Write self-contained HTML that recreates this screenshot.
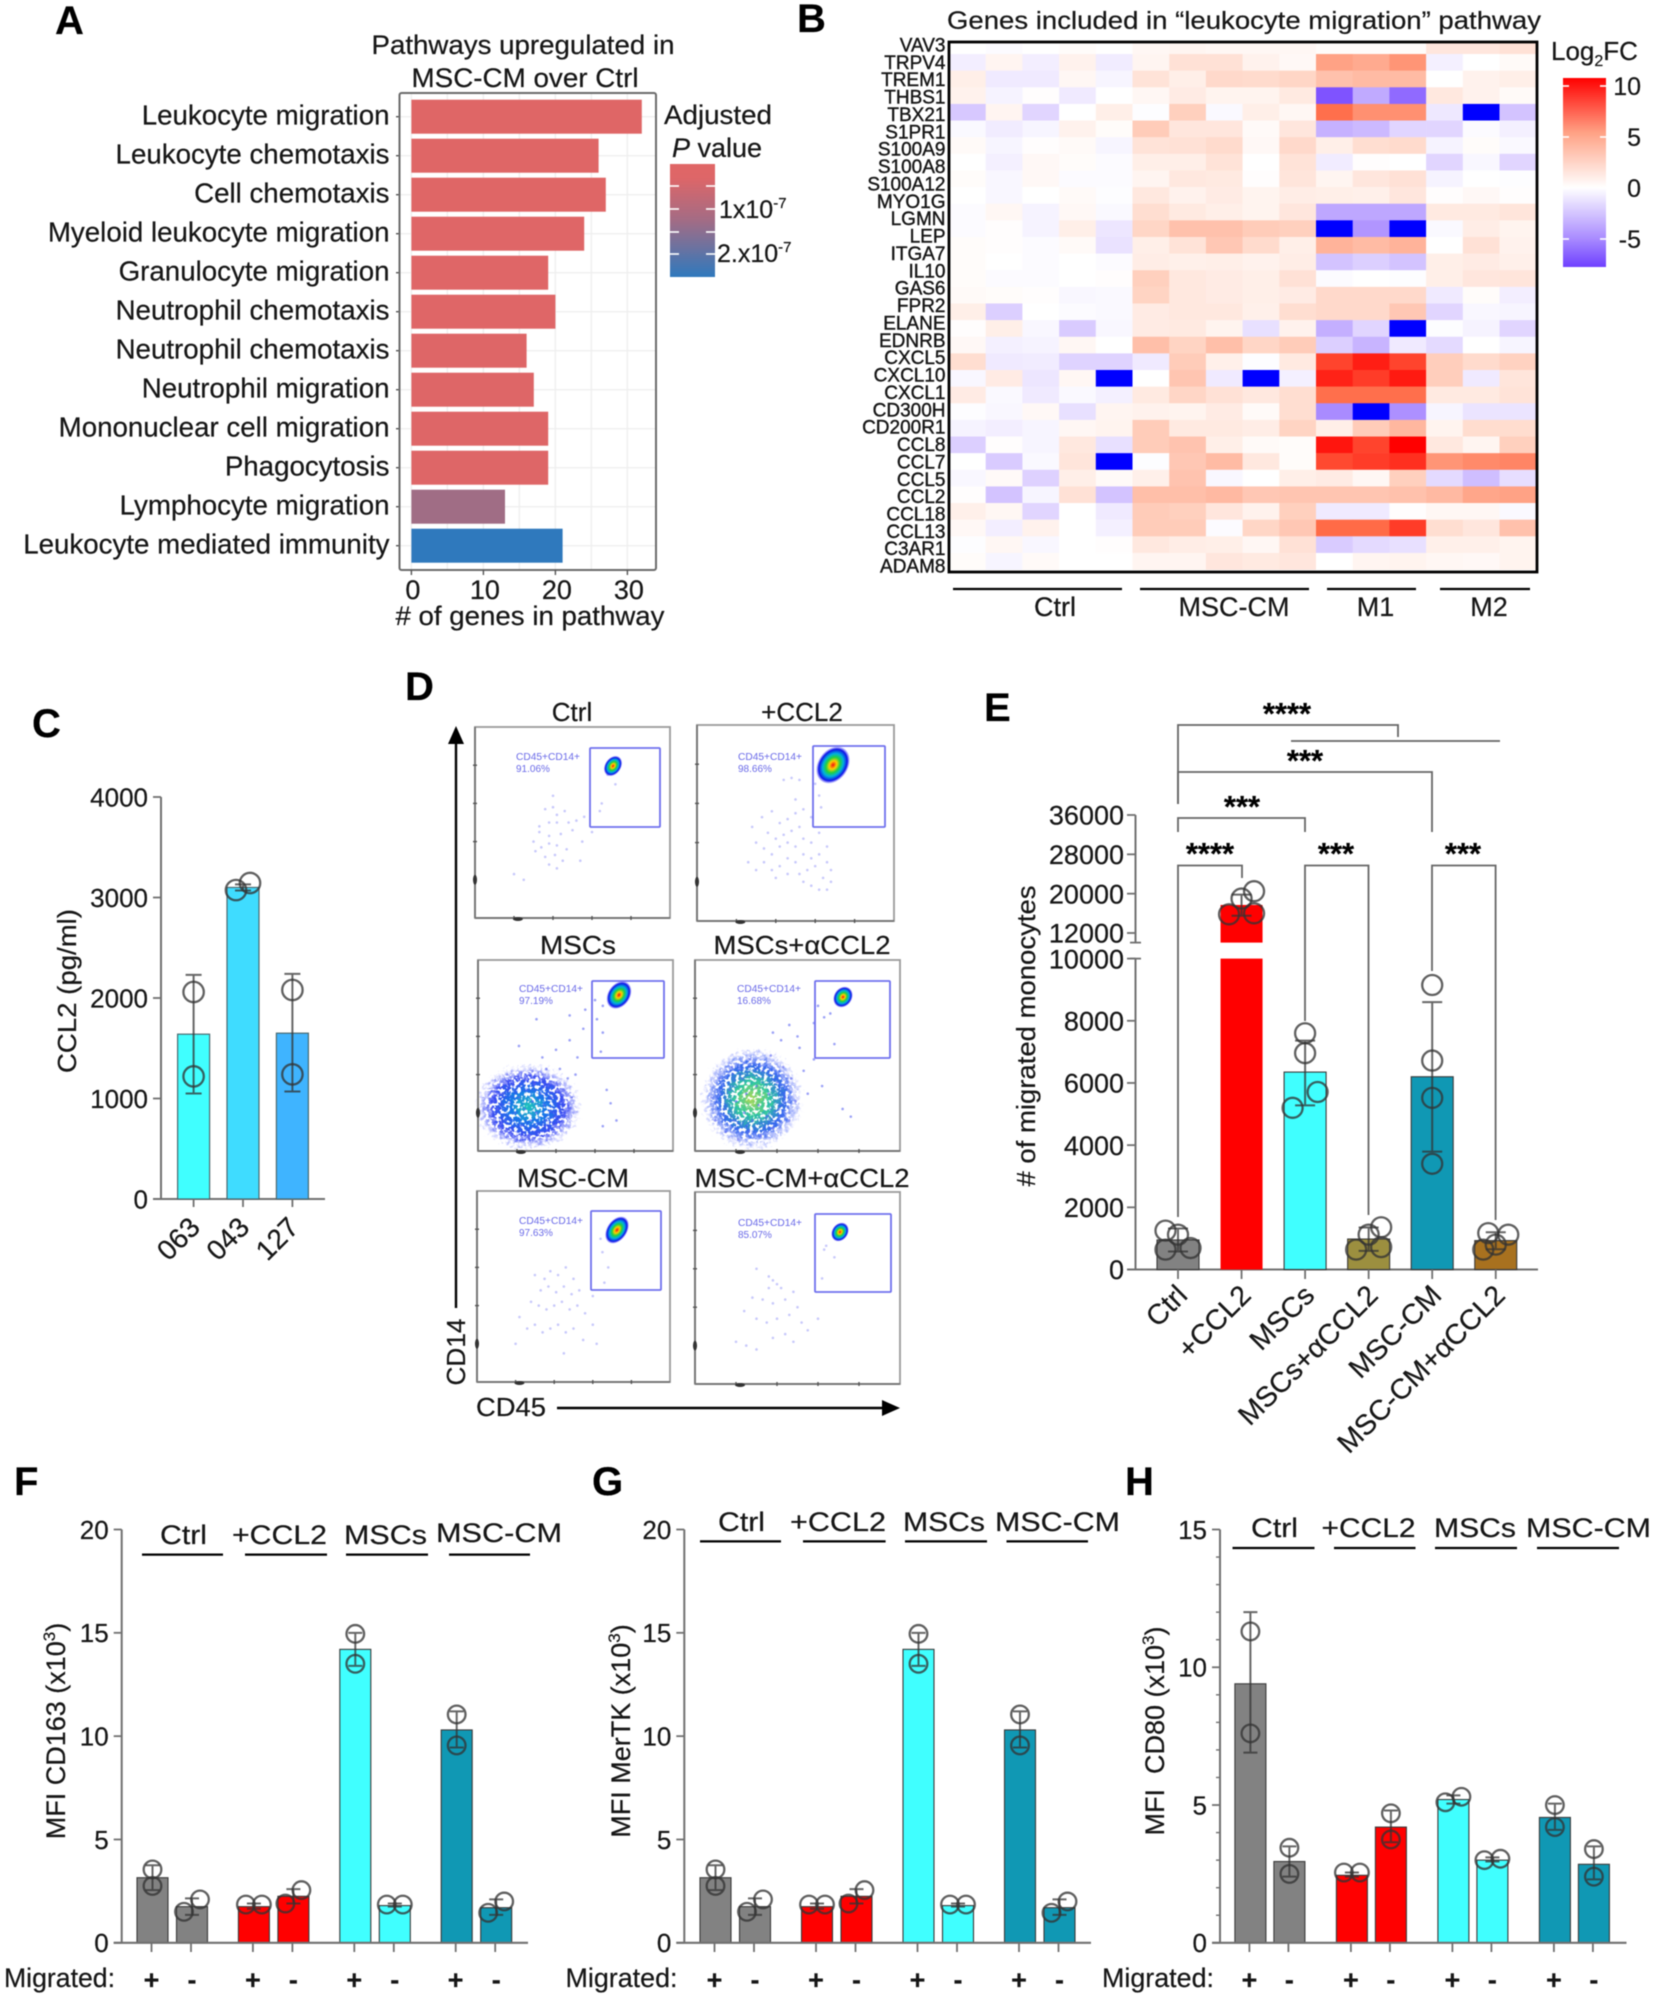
<!DOCTYPE html>
<html lang="en">
<head>
<meta charset="utf-8">
<title>Monocyte migration figure</title>
<style>
html,body{margin:0;padding:0;background:#fff}
svg{display:block;filter:blur(.55px)}
text{font-family:"Liberation Sans",sans-serif;fill:#161616;stroke:#161616;stroke-width:.22px}
.letter{font-weight:bold;font-size:40px;fill:#000}
.t27{font-size:27px}
.t26{font-size:26px}
.stars{font-weight:bold;font-size:31px;fill:#000;text-anchor:middle}
.grp{stroke:#000;stroke-width:2.2;fill:none}
.brk{stroke:#666;stroke-width:1.8;fill:none}
</style>
</head>
<body>
<svg id="fig" xmlns="http://www.w3.org/2000/svg" width="1654" height="1997" viewBox="0 0 1654 1997">
<rect width="1654" height="1997" fill="#fff"/>

<defs>
<linearGradient id="grad-p" x1="0" y1="0" x2="0" y2="1">
<stop offset="0" stop-color="#e06666"/><stop offset=".12" stop-color="#de6668"/><stop offset=".5" stop-color="#a36c85"/><stop offset="1" stop-color="#2f79bd"/>
</linearGradient>
<linearGradient id="grad-fc" x1="0" y1="0" x2="0" y2="1">
<stop offset="0" stop-color="#ff0000"/><stop offset=".29" stop-color="#ffa285"/><stop offset=".58" stop-color="#ffffff"/><stop offset=".85" stop-color="#a98bff"/><stop offset="1" stop-color="#7040ff"/>
</linearGradient>
<radialGradient id="grad-hot">
<stop offset="0" stop-color="#f01010"/><stop offset=".22" stop-color="#ffd000"/><stop offset=".42" stop-color="#20d040"/><stop offset=".62" stop-color="#00b0e0"/><stop offset=".85" stop-color="#1010e8"/><stop offset="1" stop-color="#5050ff" stop-opacity=".15"/>
</radialGradient>
<radialGradient id="grad-blob-a">
<stop offset="0" stop-color="#20c8b8"/><stop offset=".35" stop-color="#1878e8"/><stop offset=".68" stop-color="#2a3cf0" stop-opacity=".92"/><stop offset="1" stop-color="#6a70ff" stop-opacity="0"/>
</radialGradient>
<radialGradient id="grad-blob-b">
<stop offset="0" stop-color="#a8d858"/><stop offset=".35" stop-color="#30c8a0"/><stop offset=".66" stop-color="#2458ec" stop-opacity=".92"/><stop offset="1" stop-color="#6a70ff" stop-opacity="0"/>
</radialGradient>
<filter id="speckle" x="-15%" y="-15%" width="130%" height="130%">
<feTurbulence type="fractalNoise" baseFrequency=".28" numOctaves="2" seed="4" result="n"/>
<feDisplacementMap in="SourceGraphic" in2="n" scale="16" xChannelSelector="R" yChannelSelector="G" result="d"/>
<feColorMatrix in="n" type="matrix" values="0 0 0 0 0  0 0 0 0 0  0 0 0 0 0  0 0 0 -9 5.6" result="m"/>
<feComposite in="d" in2="m" operator="in"/>
</filter>
<clipPath id="hm-clip"><rect x="949" y="42" width="588" height="530"/></clipPath>
</defs>

<g id="panel-a">
<text class="letter" x="55" y="34" font-size="40">A</text>
<text class="t27" x="523" y="54" text-anchor="middle" textLength="303" lengthAdjust="spacingAndGlyphs">Pathways upregulated in</text>
<text class="t27" x="525" y="87" text-anchor="middle" textLength="227" lengthAdjust="spacingAndGlyphs">MSC-CM over Ctrl</text>
<text class="t27" x="530" y="625" text-anchor="middle" textLength="269" lengthAdjust="spacingAndGlyphs"># of genes in pathway</text>
<text class="t27" x="664" y="124" textLength="108" lengthAdjust="spacingAndGlyphs">Adjusted</text>
<text class="t27" x="672" y="157"><tspan font-style="italic">P</tspan> value</text>
<rect x="670" y="164" width="45" height="113" fill="url(#grad-p)"/>
<text x="719" y="218" font-size="25">1x10<tspan dy="-10" font-size="15">-7</tspan></text>
<text x="717" y="262" font-size="25">2.x10<tspan dy="-10" font-size="15">-7</tspan></text>
</g>

<g id="panel-b">
<text class="letter" x="797" y="32">B</text>
<text x="947" y="29" font-size="25" textLength="594" lengthAdjust="spacingAndGlyphs">Genes included in “leukocyte migration” pathway</text>
<text x="1551" y="60" font-size="26">Log<tspan dy="6" font-size="16">2</tspan><tspan dy="-6">FC</tspan></text>
<rect x="1563" y="78" width="43" height="189" fill="url(#grad-fc)"/>
<line class="grp" x1="953" x2="1122" y1="589" y2="589"/>
<line class="grp" x1="1140" x2="1309" y1="589" y2="589"/>
<line class="grp" x1="1327" x2="1416" y1="589" y2="589"/>
<line class="grp" x1="1440" x2="1530" y1="589" y2="589"/>
</g>

<g id="panel-c">
<text class="letter" x="32" y="737">C</text>
<text class="t26" transform="rotate(-90 76 991)" x="76" y="991" text-anchor="middle" textLength="164" lengthAdjust="spacingAndGlyphs">CCL2 (pg/ml)</text>
</g>

<g id="panel-d">
<text class="letter" x="405" y="700">D</text>
<text class="t26" x="572" y="721" text-anchor="middle">Ctrl</text>
<text class="t26" x="802" y="721" text-anchor="middle">+CCL2</text>
<text class="t26" x="578" y="954" text-anchor="middle" textLength="76" lengthAdjust="spacingAndGlyphs">MSCs</text>
<text class="t26" x="802" y="954" text-anchor="middle" textLength="177" lengthAdjust="spacingAndGlyphs">MSCs+αCCL2</text>
<text class="t26" x="573" y="1187" text-anchor="middle" textLength="112" lengthAdjust="spacingAndGlyphs">MSC-CM</text>
<text class="t26" x="802" y="1187" text-anchor="middle" textLength="215" lengthAdjust="spacingAndGlyphs">MSC-CM+αCCL2</text>
<line x1="456" y1="1308" x2="456" y2="735" stroke="#000" stroke-width="2.4"/>
<polygon points="456,726 448,744 464,744" fill="#000"/>
<text class="t26" transform="rotate(-90 465 1352)" x="465" y="1352" text-anchor="middle" textLength="67" lengthAdjust="spacingAndGlyphs">CD14</text>
<line x1="557" y1="1408" x2="890" y2="1408" stroke="#000" stroke-width="2.4"/>
<polygon points="900,1408 882,1400 882,1416" fill="#000"/>
<text class="t26" x="476" y="1416" textLength="70" lengthAdjust="spacingAndGlyphs">CD45</text>
</g>

<g id="panel-e">
<text class="letter" x="984" y="721">E</text>
<text class="t26" transform="rotate(-90 1035 1036)" x="1035" y="1036" text-anchor="middle" textLength="301" lengthAdjust="spacingAndGlyphs"># of migrated monocytes</text>
<path class="brk" d="M1178 804V725H1398V737"/>
<path class="brk" d="M1291 741H1500"/>
<path class="brk" d="M1178 804V772H1432V832"/>
<path class="brk" d="M1178 832V818H1305V832"/>
<path class="brk" d="M1178 1217V865.5H1242V878"/>
<path class="brk" d="M1305 1021V865.5H1368.5V1215"/>
<path class="brk" d="M1432 971V865.5H1495.6V1220"/>
<text class="stars" x="1287" y="724">****</text>
<text class="stars" x="1305" y="771">***</text>
<text class="stars" x="1242" y="817">***</text>
<text class="stars" x="1210" y="864">****</text>
<text class="stars" x="1336" y="864">***</text>
<text class="stars" x="1463" y="864">***</text>
</g>

<g id="panel-f">
<text class="letter" x="14" y="1495">F</text>
<text class="t27" transform="rotate(-90 65 1731)" x="65" y="1731" text-anchor="middle">MFI CD163 (x10<tspan dy="-10" font-size="17">3</tspan><tspan dy="10">)</tspan></text>
<line class="grp" x1="142" x2="223" y1="1554.6" y2="1554.6"/>
<line class="grp" x1="245" x2="327" y1="1554.6" y2="1554.6"/>
<line class="grp" x1="346" x2="428" y1="1554.6" y2="1554.6"/>
<line class="grp" x1="449" x2="530" y1="1554.6" y2="1554.6"/>
<text class="t27" x="160" y="1544" textLength="47" lengthAdjust="spacingAndGlyphs">Ctrl</text>
<text class="t27" x="232" y="1544" textLength="95" lengthAdjust="spacingAndGlyphs">+CCL2</text>
<text class="t27" x="344" y="1544" textLength="83" lengthAdjust="spacingAndGlyphs">MSCs</text>
<text class="t27" x="436" y="1542" textLength="126" lengthAdjust="spacingAndGlyphs">MSC-CM</text>
<text class="t27" x="4" y="1987" textLength="111" lengthAdjust="spacingAndGlyphs">Migrated:</text>
</g>

<g id="panel-g">
<text class="letter" x="592" y="1495">G</text>
<text class="t27" transform="rotate(-90 630 1731)" x="630" y="1731" text-anchor="middle">MFI MerTK (x10<tspan dy="-10" font-size="17">3</tspan><tspan dy="10">)</tspan></text>
<line class="grp" x1="700" x2="781" y1="1541.4" y2="1541.4"/>
<line class="grp" x1="803" x2="885.6" y1="1541.4" y2="1541.4"/>
<line class="grp" x1="905" x2="987" y1="1541.4" y2="1541.4"/>
<line class="grp" x1="1006.5" x2="1088" y1="1541.4" y2="1541.4"/>
<text class="t27" x="718" y="1531" textLength="47" lengthAdjust="spacingAndGlyphs">Ctrl</text>
<text class="t27" x="790" y="1531" textLength="96" lengthAdjust="spacingAndGlyphs">+CCL2</text>
<text class="t27" x="903" y="1531" textLength="82" lengthAdjust="spacingAndGlyphs">MSCs</text>
<text class="t27" x="995" y="1531" textLength="125" lengthAdjust="spacingAndGlyphs">MSC-CM</text>
<text class="t27" x="565.5" y="1987" textLength="112" lengthAdjust="spacingAndGlyphs">Migrated:</text>
</g>

<g id="panel-h">
<text class="letter" x="1125" y="1495">H</text>
<text class="t27" transform="rotate(-90 1164 1731)" x="1164" y="1731" text-anchor="middle" xml:space="preserve">MFI  CD80 (x10<tspan dy="-10" font-size="17">3</tspan><tspan dy="10">)</tspan></text>
<line class="grp" x1="1232.5" x2="1314.5" y1="1548" y2="1548"/>
<line class="grp" x1="1334" x2="1415.5" y1="1548" y2="1548"/>
<line class="grp" x1="1435" x2="1517" y1="1548" y2="1548"/>
<line class="grp" x1="1537" x2="1619" y1="1548" y2="1548"/>
<text class="t27" x="1251" y="1537" textLength="47" lengthAdjust="spacingAndGlyphs">Ctrl</text>
<text class="t27" x="1321.5" y="1537" textLength="94" lengthAdjust="spacingAndGlyphs">+CCL2</text>
<text class="t27" x="1434" y="1537" textLength="82" lengthAdjust="spacingAndGlyphs">MSCs</text>
<text class="t27" x="1526" y="1537" textLength="125" lengthAdjust="spacingAndGlyphs">MSC-CM</text>
<text class="t27" x="1102" y="1987" textLength="112" lengthAdjust="spacingAndGlyphs">Migrated:</text>
</g>
</svg>

<script>
/* ---------- Panel A data ---------- */
const pathwayLabels = ['Leukocyte migration','Leukocyte chemotaxis','Cell chemotaxis','Myeloid leukocyte migration','Granulocyte migration','Neutrophil chemotaxis','Neutrophil chemotaxis','Neutrophil migration','Mononuclear cell migration','Phagocytosis','Lymphocyte migration','Leukocyte mediated immunity'];
const pathwayCounts = [32,26,27,24,19,20,16,17,19,19,13,21];
const pathwayPvalues = [1e-9,1e-9,1e-9,2e-9,2e-9,2e-9,3e-9,3e-9,3e-9,3e-9,0.9e-7,2.5e-7];
const pathwayXTicks = ['0','10','20','30'];

/* ---------- Panel B data ---------- */
const heatmapGenes = ['VAV3','TRPV4','TREM1','THBS1','TBX21','S1PR1','S100A9','S100A8','S100A12','MYO1G','LGMN','LEP','ITGA7','IL10','GAS6','FPR2','ELANE','EDNRB','CXCL5','CXCL10','CXCL1','CD300H','CD200R1','CCL8','CCL7','CCL5','CCL2','CCL18','CCL13','C3AR1','ADAM8'];
const heatmapGroups = ['Ctrl','MSC-CM','M1','M2'];
const heatmapLegendTicks = ['10','5','0','-5'];
const heatmapValues = [
[0,-.2,0,.2,0,.5,.6,.5,.5,.5,.2,.2,.2,1.5,1.5,1.8],
[-.8,.6,-.8,.8,-.9,.6,1.8,1.8,.8,.4,5,4.6,5.6,-.7,0,.3],
[1,-1,-1,.5,-.5,1.7,1,2.3,2.2,2.5,3.5,3.8,3.8,0,.8,1],
[.8,-.6,.1,-1,0,.5,1.2,.7,.7,1.3,-7,-3.8,-6.2,1.4,.8,.3],
[-2.6,.6,-2,0,1,-.1,2.8,-.3,1,.5,7.3,5.8,5.8,-1.1,-10,-2.8],
[-.3,-.9,-.5,.8,.2,3,1.5,1.5,.3,1.5,-3.5,-3.2,-2,-2,-.2,-.7],
[.3,-.5,.1,.3,-.5,1.7,1.8,2.2,.4,2.3,1,2,2.2,-.6,.2,-.3],
[0,-.7,.4,.2,-.2,1,1,1.7,0,1.7,-.9,.1,0,-2,-.4,-2],
[.2,-.4,.4,-.2,-.2,.6,1.4,1.3,.1,1.6,.6,1.5,1.8,-.6,0,-.1],
[0,-.4,0,.3,-.1,1.4,.8,1.2,.7,1.1,1,.9,1.5,.1,.4,.1],
[-.2,.5,-.6,.4,-.3,2,1.3,1,.7,1.5,-3.9,-3.9,-3.9,1.3,1.3,1.6],
[-.2,.1,-.6,1,-1.2,2.5,3.5,3.5,3,2.8,-10,-4.6,-10,-.3,1.1,.7],
[.2,.1,-.2,.3,-1.4,1,1.7,3.2,2.2,1,4.2,3.8,4.2,0,1.8,.8],
[.2,0,-.2,0,-.2,1.1,.9,1,.8,1.1,-2.8,-2.3,-2.8,1,1.2,.9],
[.2,-.2,-.2,0,.1,2.8,1.4,1.2,1,1.8,-.2,0,-.1,1,1.5,1.6],
[.3,.2,.1,-.4,-.3,2.6,1.4,1.2,1,1.2,2.3,2.3,2.3,-1,.2,-.8],
[1,-2.3,0,-.2,-.3,1.2,1.4,1.4,.9,2,2.3,2.3,3.2,-2,-.4,-.5],
[.1,1,-.4,-2.5,-.4,1.2,1.3,.7,-1.5,.8,-3.6,-2,-10,-.1,-.6,-2],
[.4,-.7,-.6,.5,0,3.6,2.6,3.6,2.5,3,-2.3,-3.4,-1,-1.8,0,-.5],
[2,-1,-.9,-2.1,-2.1,-1,3,.9,-.1,1.3,8.4,9.3,8.4,2.9,2.2,2.7],
[-.4,1.2,-1.2,.5,-10,0,3.3,-1,-10,-.7,9.2,8.6,9.4,2.9,-1,1.6],
[1.2,-.3,-1,-.3,-.7,1.3,2.5,1.8,1.4,2,7.3,7.3,7.3,1.3,1.3,1.7],
[-.1,-.4,.4,-1.5,.6,.8,.7,1.2,.3,2,-5,-10,-4.8,-.5,-1.3,-1.3],
[-.6,-.8,-.5,.5,.7,3,1.3,1.3,1.1,2.6,1,3,4,.7,2.1,2.1],
[-2.3,.1,-.5,1.4,-1.5,3,3.4,1,.3,.2,9.5,8.4,10,1.4,.6,2.8],
[0,-2.5,-.3,1.6,-10,-.1,3.2,3.8,1.4,.2,8.3,8.6,8.9,5.6,6.1,6.3],
[-.4,.3,-2.2,1,.3,.9,3.4,-.4,0,1,1.2,.5,2.8,-1.8,-3,-1.6],
[.1,-2.8,-.5,1.8,-2.8,3.6,3.6,3.9,3.2,3.3,3.3,3.3,3.5,3.9,4.8,5],
[.9,.5,-2,0,-1,3,2.8,1.5,.8,2.8,-1,-1,.1,.5,.5,-.3],
[.4,-.8,.8,0,-.7,3,3,-.2,2.5,3.2,7.5,7.5,8.6,2,1.5,3.5],
[-.1,.5,-.4,0,.1,1.4,1.1,1,.5,1.8,-2.5,-1.8,-1.5,.9,.9,.7],
[.2,-.5,.3,0,0,.6,.6,1.5,1.3,1.5,0,.6,.7,.5,.4,.7]
];

/* ---------- Panel C data ---------- */
const ccl2Categories = ['063','043','127'];
const ccl2Values = [1640,3100,1650];
const ccl2ErrLow = [1050,3070,1070];
const ccl2ErrHigh = [2230,3130,2240];
const ccl2Points = [[2060,1220],[3074,3144],[2080,1240]];
const ccl2Slots = [[0,0],[-1,1],[0,0]];
const ccl2Ticks = ['0','1000','2000','3000','4000'];

/* ---------- Panel D data (events in % of plot width / height) ---------- */
const flowPercents = ['91.06%','98.66%','97.19%','16.68%','97.63%','85.07%'];
const flowEventsCtrl = [[36,43],[40,42],[42,46],[46,44],[38,50],[33,52],[42,50],[48,50],[52,49],[56,47],[33,55],[38,57],[44,56],[50,54],[30,60],[34,63],[38,61],[42,62],[31,65],[36,68],[41,67],[45,70],[38,72],[42,74],[20,77],[25,80],[47,64],[55,60],[60,55],[64,44],[65,40],[68,25],[70,22],[72,30],[40,36],[54,70]];
const flowEventsCcl2 = [[28,52],[33,47],[38,44],[42,50],[46,48],[50,45],[54,43],[58,47],[36,55],[40,58],[44,56],[48,54],[52,52],[30,60],[34,63],[38,66],[42,62],[46,60],[50,62],[54,58],[58,60],[62,55],[66,62],[26,70],[30,74],[34,70],[38,74],[42,72],[46,68],[50,70],[54,66],[58,68],[62,66],[66,70],[68,74],[40,78],[46,76],[52,76],[56,74],[60,72],[64,78],[68,80],[58,82],[62,84],[54,80],[66,84],[50,38],[44,28],[48,27],[52,28],[60,30],[62,36],[63,22],[63,42]];
const flowEventsMscs = [[33,51],[40,47],[47,42],[54,36],[47,29],[55,26],[61,31],[64,38],[63,48],[66,68],[68,75],[71,84],[64,87],[35,57],[42,57],[51,51],[21,45],[30,31],[60,21],[64,24],[10,78],[13,70],[14,84],[16,75],[17,90],[18,66],[19,80],[21,72],[22,87],[23,62],[24,78],[25,68],[26,92],[27,84],[28,74],[29,65],[30,80],[31,88],[32,70],[33,60],[34,76],[35,84],[36,66],[37,79],[38,72],[39,64],[40,82],[42,74],[44,68],[46,62],[45,78],[8,74],[12,90],[20,94],[30,95],[15,60],[28,58],[50,60],[48,72],[36,92]];
const flowEventsMscsAb = [[8,72],[10,84],[12,62],[14,78],[15,90],[17,68],[18,56],[19,84],[20,74],[21,94],[23,62],[24,80],[25,70],[26,90],[27,52],[28,84],[30,66],[31,76],[32,92],[33,58],[35,82],[36,70],[37,50],[38,88],[40,64],[41,78],[43,56],[44,72],[46,84],[47,62],[49,74],[51,46],[53,58],[55,70],[58,52],[62,66],[38,38],[42,42],[46,34],[50,40],[58,33],[68,44],[76,82],[72,78],[60,24],[63,30],[66,28]];
const flowEventsCm = [[30,44],[35,46],[38,42],[42,44],[46,40],[50,46],[33,52],[37,50],[41,53],[45,50],[49,54],[53,52],[28,58],[32,60],[36,62],[40,60],[44,58],[48,62],[52,60],[56,64],[22,66],[26,72],[30,70],[34,74],[38,72],[42,70],[46,74],[50,72],[60,70],[62,80],[55,78],[20,80],[45,85],[65,32],[64,25],[68,40],[66,48],[60,55]];
const flowEventsCmAb = [[30,40],[36,44],[38,46],[40,48],[36,50],[42,50],[28,55],[33,56],[38,58],[44,56],[48,52],[50,60],[24,62],[30,66],[35,68],[40,66],[46,64],[52,68],[20,78],[25,80],[30,82],[38,76],[44,74],[48,78],[55,72],[60,66],[62,45],[63,30],[64,28],[68,34]];

/* ---------- Panel E data ---------- */
const monoCategories = ['Ctrl','+CCL2','MSCs','MSCs+αCCL2','MSC-CM','MSC-CM+αCCL2'];
const monoValues = [950,17700,6350,980,6200,930];
const monoErrLow = [580,15500,5280,600,3790,650];
const monoErrHigh = [1320,19800,7360,1350,8600,1200];
const monoPoints = [[1250,1120,640,690],[20500,19000,15800,16000],[7600,6960,5710,5200],[1360,1120,640,720],[9150,6720,5520,3400],[1170,1120,800,640]];
const monoSlots = [[-1,0,-1,1],[1,0,-1,1],[0,0,1,-1],[1,0,-1,1],[0,0,0,0],[-.6,1,0,-1]];
const monoTicksLower = ['0','2000','4000','6000','8000','10000'];
const monoTicksUpper = ['12000','20000','28000','36000'];

/* ---------- Panels F / G / H data ---------- */
const migratedSigns = ['+','-','+','-','+','-','+','-'];
const cd163Values = [3.15,1.75,1.75,2.25,14.2,1.8,10.3,1.7];
const cd163ErrLow = [2.55,1.35,1.65,1.9,13.4,1.75,9.45,1.35];
const cd163ErrHigh = [3.75,2.15,1.9,2.6,15,1.9,11.2,2.1];
const cd163Points = [[3.55,2.75],[2.1,1.5],[1.85,1.85],[2.55,1.9],[14.95,13.5],[1.85,1.85],[11.05,9.55],[2,1.45]];
const mertkValues = [3.15,1.75,1.75,2.25,14.2,1.8,10.3,1.7];
const mertkErrLow = [2.55,1.35,1.65,1.9,13.4,1.75,9.45,1.35];
const mertkErrHigh = [3.75,2.15,1.9,2.6,15,1.9,11.2,2.1];
const mertkPoints = [[3.55,2.75],[2.1,1.5],[1.85,1.85],[2.55,1.9],[14.95,13.5],[1.85,1.85],[11.05,9.55],[2,1.45]];
const cd80Values = [9.4,2.95,2.45,4.2,5.2,3,4.55,2.85];
const cd80ErrLow = [6.9,2.4,2.4,3.65,5.05,2.95,4.1,2.3];
const cd80ErrHigh = [12,3.5,2.55,4.8,5.35,3.1,5.05,3.5];
const cd80Points = [[11.3,7.6],[3.45,2.5],[2.55,2.55],[4.7,3.75],[5.3,5.1],[3.05,3],[5,4.2],[3.4,2.4]];
const pairedSlots = [[0,0],[1,-1],[-1,1],[1,-1],[0,0],[-1,1],[0,0],[1,-1]];
const cd80Slots = [[0,0],[0,0],[-1,1],[0,0],[1,-1],[1,-1],[0,0],[0,0]];
const mfiTicks20 = ['0','5','10','15','20'];
const mfiTicks15 = ['0','5','10','15'];

/* ---------- helpers ---------- */
const NS = 'http://www.w3.org/2000/svg';
const AXIS = '#707070';
function add(parent, tag, attrs) {
  const el = document.createElementNS(NS, tag);
  for (const k in attrs) el.setAttribute(k, attrs[k]);
  parent.appendChild(el);
  return el;
}
function named(el, name) {
  
  
  return el;
}
function label(parent, str, x, y, size, anchor, name, extra) {
  const el = add(parent, 'text', Object.assign({x: x, y: y, 'font-size': size, 'text-anchor': anchor}, extra || {}));
  el.textContent = str;
  return named(el, name);
}
function rule(parent, x1, y1, x2, y2, stroke, w, name) {
  return named(add(parent, 'line', {x1: x1, y1: y1, x2: x2, y2: y2, stroke: stroke, 'stroke-width': w}), name);
}
function slug(s) { return String(s).toLowerCase().replace(/[^a-z0-9]+/g, '-'); }
function drawError(g, x, yLow, yHigh, cap, name) {
  const d = 'M' + x + ' ' + yLow + 'V' + yHigh + 'M' + (x - cap) + ' ' + yHigh + 'H' + (x + cap) + 'M' + (x - cap) + ' ' + yLow + 'H' + (x + cap);
  const el = add(g, 'path', {d: d, stroke: '#333', 'stroke-opacity': .75, 'stroke-width': 2, fill: 'none'});
  return named(el, name);
}
function drawPoint(g, x, y, r, name) {
  const el = add(g, 'circle', {cx: x, cy: y, r: r, fill: 'none', stroke: '#333', 'stroke-opacity': .78, 'stroke-width': 2.3});
  return named(el, name);
}
function linear(d0, d1, r0, r1) { return function (v) { return r0 + (v - d0) * (r1 - r0) / (d1 - d0); }; }

/* ---------- Panel A ---------- */
(function () {
  const g = document.getElementById('panel-a');
  const xA = linear(0, 10, 411.4, 483.4);
  const rowY = function (i) { return 116.7 + 39 * i; };
  const grid = add(g, 'g', {stroke: '#efefef', 'stroke-width': 1.4});
  named(grid, 'pathway-gridlines');
  for (let t = 0; t <= 30; t += 5) add(grid, 'line', {x1: xA(t), x2: xA(t), y1: 93, y2: 570});
  pathwayLabels.forEach(function (_, i) { add(grid, 'line', {x1: 400, x2: 656, y1: rowY(i), y2: rowY(i)}); });
  const pColor = function (p) {
    const t = Math.min(1, p / 2.5e-7);
    const a = [224, 102, 102], b = [47, 121, 189];
    return 'rgb(' + a.map(function (c, k) { return Math.round(c + (b[k] - c) * t); }).join(',') + ')';
  };
  pathwayCounts.forEach(function (v, i) {
    const c = pColor(pathwayPvalues[i]);
    const bar = add(g, 'rect', {x: xA(0), y: rowY(i) - 17, width: xA(v) - xA(0), height: 34, fill: c});
    named(bar, 'pathway-bar-' + slug(pathwayLabels[i]));
    label(g, pathwayLabels[i], 389.5, rowY(i) + 8, 27.7, 'end', 'pathway-label-' + slug(pathwayLabels[i]));
    rule(g, 396, rowY(i), 400, rowY(i), '#555', 1.4, 'pathway-y-tick');
  });
  const box = add(g, 'rect', {x: 399.5, y: 93, width: 256.5, height: 477, fill: 'none', stroke: '#6b6b6b', 'stroke-width': 2, rx: 2});
  named(box, 'pathway-plot-frame');
  pathwayXTicks.forEach(function (t) {
    const x = xA(Number(t));
    rule(g, x, 570, x, 575, '#555', 1.4, 'pathway-x-tick');
    label(g, t, x + 1.5, 599, 27, 'middle', 'pathway-x-tick-label');
  });
  [186, 209, 232, 254].forEach(function (y) {
    rule(g, 670, y, 679, y, '#fff', 1.6, 'p-colorbar-tick');
    rule(g, 706, y, 715, y, '#fff', 1.6, 'p-colorbar-tick');
  });
})();

/* ---------- Panel B ---------- */
(function () {
  const g = document.getElementById('panel-b');
  const stops = [[-10,[0,0,255]],[-9.9,[106,60,255]],[-7.7,[112,64,255]],[-5,[169,139,255]],[-2.5,[217,203,255]],[0,[255,255,255]],[2.5,[255,214,198]],[5,[255,162,133]],[7.5,[255,107,71]],[10,[255,0,0]]];
  const color = function (v) {
    for (let i = 1; i < stops.length; i++) {
      if (v <= stops[i][0]) {
        const a = stops[i - 1], b = stops[i], t = (v - a[0]) / (b[0] - a[0]);
        return 'rgb(' + a[1].map(function (c, k) { return Math.round(c + (b[1][k] - c) * t); }).join(',') + ')';
      }
    }
    return 'rgb(255,0,0)';
  };
  const colX = function (c) { return 949 + 36.7 * c; };
  const rowY = function (r) { return 37.4 + 16.63 * r; };
  const cells = add(g, 'g', {'clip-path': 'url(#hm-clip)'});
  named(cells, 'heatmap-cells');
  heatmapValues.forEach(function (row, r) {
    row.forEach(function (v, c) {
      const cell = add(cells, 'rect', {x: colX(c), y: rowY(r), width: 37, height: 16.9, fill: color(v)});
      named(cell, 'heatmap-cell');
    });
  });
  const frame = add(g, 'rect', {x: 949, y: 42, width: 588, height: 530, fill: 'none', stroke: '#000', 'stroke-width': 2.8});
  named(frame, 'heatmap-frame');
  heatmapGenes.forEach(function (name, i) {
    label(g, name, 945.5, 45 + 17.37 * i + 6.5, 19, 'end', 'gene-label-' + slug(name), {style: 'stroke-width:.4px'});
  });
  const groupX = [1055, 1234, 1375.5, 1489];
  heatmapGroups.forEach(function (name, i) {
    label(g, name, groupX[i], 616, 27, 'middle', 'heatmap-group-label-' + slug(name));
  });
  const legendY = linear(0, 10, 188, 86);
  heatmapLegendTicks.forEach(function (t) {
    const y = legendY(Number(t));
    label(g, t, 1641, y + 9, 25, 'end', 'log2fc-tick-label');
    rule(g, 1563, y, 1569, y, '#fff', 1.6, 'log2fc-tick');
    rule(g, 1600, y, 1606, y, '#fff', 1.6, 'log2fc-tick');
  });
})();

/* ---------- shared axis drawing ---------- */
function yAxis(g, scale, ticks, axisX, tickX, labelX, size, prefix) {
  ticks.forEach(function (t) {
    const y = scale(Number(t));
    rule(g, tickX, y, axisX, y, AXIS, 1.8, prefix + '-y-tick');
    label(g, t, labelX, y + size * .36, size, 'end', prefix + '-y-tick-label');
  });
}

/* ---------- Panel C ---------- */
(function () {
  const g = document.getElementById('panel-c');
  const y = linear(0, 4000, 1199, 797);
  const x = function (i) { return 193.6 + 49.4 * i; };
  const colors = ['#40ffff', '#3fdcff', '#3fb4ff'];
  rule(g, 161, 797, 161, 1199, AXIS, 2, 'ccl2-y-axis');
  yAxis(g, y, ccl2Ticks, 161, 153, 148, 26, 'ccl2');
  rule(g, 153, 1199, 325, 1199, AXIS, 2, 'ccl2-x-axis');
  ccl2Categories.forEach(function (cat, i) {
    const bar = add(g, 'rect', {x: x(i) - 16, y: y(ccl2Values[i]), width: 32, height: y(0) - y(ccl2Values[i]), fill: colors[i], stroke: '#4a6a70', 'stroke-width': 1.2});
    named(bar, 'ccl2-bar-' + cat);
    rule(g, x(i), 1199, x(i), 1207, AXIS, 1.8, 'ccl2-x-tick');
    drawError(g, x(i), y(ccl2ErrLow[i]), y(ccl2ErrHigh[i]), 8, 'ccl2-error-bar-' + cat);
    ccl2Points[i].forEach(function (v, k) {
      drawPoint(g, x(i) + ccl2Slots[i][k] * 7, y(v), 10.2, 'ccl2-point-' + cat);
    });
    const lx = x(i) + 8, ly = 1229;
    label(g, cat, lx, ly, 28, 'end', 'ccl2-x-label-' + cat, {transform: 'rotate(-45 ' + lx + ' ' + ly + ')'});
  });
})();

/* ---------- Panel D ---------- */
(function () {
  const g = document.getElementById('panel-d');
  const plots = [
    {n: 'ctrl', b: [475, 727, 670, 918], gate: [590, 748, 660, 827], hot: [613, 766, 8, 11], ev: flowEventsCtrl, txt: [516, 760], pct: 0},
    {n: 'ccl2', b: [697, 725, 894, 921], gate: [813, 746, 885, 827], hot: [833, 765, 15, 20], ev: flowEventsCcl2, txt: [738, 760], pct: 1},
    {n: 'mscs', b: [478, 960, 673, 1151], gate: [592, 981, 664, 1058], hot: [619, 995, 11, 15], ev: flowEventsMscs, txt: [519, 992], pct: 2, blob: [528, 1107, 52, 42, 'grad-blob-a']},
    {n: 'mscs-accl2', b: [695, 960, 900, 1151], gate: [815, 981, 890, 1058], hot: [843, 997, 9, 11], ev: flowEventsMscsAb, txt: [737, 992], pct: 3, blob: [752, 1099, 50, 50, 'grad-blob-b']},
    {n: 'msc-cm', b: [477, 1191, 670, 1382], gate: [591, 1211, 661, 1290], hot: [617, 1230, 10, 15], ev: flowEventsCm, txt: [519, 1224], pct: 4},
    {n: 'msc-cm-accl2', b: [695, 1192, 900, 1384], gate: [815, 1214, 891, 1292], hot: [840, 1232, 8, 10], ev: flowEventsCmAb, txt: [738, 1226], pct: 5}
  ];
  plots.forEach(function (p) {
    const pg = named(add(g, 'g', {}), 'flow-plot-' + p.n);
    const x0 = p.b[0], y0 = p.b[1], w = p.b[2] - x0, h = p.b[3] - y0;
    const fx = function (v) { return x0 + v / 100 * w; };
    const fy = function (v) { return y0 + v / 100 * h; };
    if (p.blob) {
      const b = add(pg, 'ellipse', {cx: p.blob[0], cy: p.blob[1], rx: p.blob[2], ry: p.blob[3], fill: 'url(#' + p.blob[4] + ')', filter: 'url(#speckle)'});
      named(b, 'flow-negative-population');
    }
    p.ev.forEach(function (e) {
      const dot = add(pg, 'circle', {cx: fx(e[0]), cy: fy(e[1]), r: 1.3, fill: p.blob ? '#5a64f2' : '#9a9cf7', 'fill-opacity': p.blob ? .6 : .55});
      named(dot, 'flow-event');
    });
    const frame = add(pg, 'rect', {x: x0, y: y0, width: w, height: h, fill: 'none', stroke: '#9a9a9a', 'stroke-width': 1.8});
    named(frame, 'flow-plot-frame');
    rule(pg, x0, y0, x0, p.b[3], '#777', 2, 'flow-plot-left-axis');
    rule(pg, x0, p.b[3], p.b[2], p.b[3], '#777', 2, 'flow-plot-bottom-axis');
    for (let f = .2; f < 1; f += .2) {
      rule(pg, x0 - 2, y0 + f * h, x0 + 2, y0 + f * h, '#555', 1.4, 'flow-y-tick');
      rule(pg, x0 + f * w, p.b[3] - 2, x0 + f * w, p.b[3] + 2, '#555', 1.4, 'flow-x-tick');
    }
    const tl = add(pg, 'rect', {x: p.gate[0], y: p.gate[1], width: p.gate[2] - p.gate[0], height: p.gate[3] - p.gate[1], fill: 'none', stroke: '#6f70ee', 'stroke-width': 1.8, rx: 1});
    named(tl, 'flow-gate');
    const hotEl = add(pg, 'ellipse', {cx: p.hot[0], cy: p.hot[1], rx: p.hot[2], ry: p.hot[3], fill: 'url(#grad-hot)', transform: 'rotate(35 ' + p.hot[0] + ' ' + p.hot[1] + ')'});
    named(hotEl, 'flow-positive-population');
    label(pg, 'CD45+CD14+', p.txt[0], p.txt[1], 10, 'start', 'flow-gate-name', {style: 'fill:#6a6ae8;stroke:none', textLength: 64, lengthAdjust: 'spacingAndGlyphs'});
    label(pg, flowPercents[p.pct], p.txt[0], p.txt[1] + 12, 10, 'start', 'flow-gate-percent', {style: 'fill:#6a6ae8;stroke:none'});
    const mark = add(pg, 'ellipse', {cx: x0 + w * .22, cy: p.b[3] + 1, rx: 5, ry: 2, fill: '#333'});
    named(mark, 'flow-axis-marker');
    const mark2 = add(pg, 'ellipse', {cx: x0, cy: y0 + h * .8, rx: 2, ry: 5, fill: '#333'});
    named(mark2, 'flow-axis-marker');
  });
})();

/* ---------- Panel E ---------- */
(function () {
  const g = document.getElementById('panel-e');
  const lower = linear(0, 10000, 1269.5, 958.6);
  const upper = linear(12000, 36000, 933, 815);
  const upperBase = 942.6;
  const y = function (v) { return v <= 10000 ? lower(v) : upper(v); };
  const x = function (i) { return 1178 + 63.55 * i; };
  const colors = ['#828282', '#ff0000', '#40ffff', '#9c8f3f', '#1098b4', '#a8711f'];
  rule(g, 1135.5, 958.6, 1135.5, 1269.5, AXIS, 2, 'monocytes-y-axis-lower');
  rule(g, 1135.5, 815, 1135.5, upperBase, AXIS, 2, 'monocytes-y-axis-upper');
  rule(g, 1130, upperBase, 1141, upperBase, AXIS, 1.8, 'axis-break-mark');
  rule(g, 1130, 958.6, 1141, 958.6, AXIS, 1.8, 'axis-break-mark');
  yAxis(g, lower, monoTicksLower, 1135.5, 1127, 1124, 27, 'monocytes');
  yAxis(g, upper, monoTicksUpper, 1135.5, 1127, 1124, 27, 'monocytes');
  rule(g, 1127, 1269.5, 1538, 1269.5, AXIS, 2, 'monocytes-x-axis');
  monoCategories.forEach(function (cat, i) {
    const v = monoValues[i], cx = x(i), nm = slug(cat);
    const low = add(g, 'rect', {x: cx - 21, y: lower(Math.min(v, 10000)), width: 42, height: lower(0) - lower(Math.min(v, 10000)), fill: colors[i], stroke: i === 1 ? 'none' : '#3a3a3a', 'stroke-width': 1.1});
    named(low, 'monocytes-bar-' + nm);
    if (v > 10000) {
      const up = add(g, 'rect', {x: cx - 21, y: upper(v), width: 42, height: upperBase - upper(v), fill: colors[i]});
      named(up, 'monocytes-bar-upper-' + nm);
    }
    rule(g, cx, 1269.5, cx, 1279, AXIS, 1.8, 'monocytes-x-tick');
    drawError(g, cx, y(monoErrLow[i]), y(monoErrHigh[i]), 10, 'monocytes-error-bar-' + nm);
    monoPoints[i].forEach(function (pv, k) {
      drawPoint(g, cx + monoSlots[i][k] * 12.5, y(pv), 10, 'monocytes-point-' + nm);
    });
    const lx = cx + 11, ly = 1297;
    label(g, cat, lx, ly, 28.5, 'end', 'monocytes-x-label-' + nm, {transform: 'rotate(-45 ' + lx + ' ' + ly + ')'});
  });
})();

/* ---------- Panels F, G, H ---------- */
function pairedPanel(id, prefix, cfg, values, errLow, errHigh, points, slots, ticks) {
  const g = document.getElementById(id);
  const y = linear(0, cfg.max, 1942.8, 1529.5);
  const x = function (i) { return cfg.x0 + cfg.pitch * Math.floor(i / 2) + cfg.gap * (i % 2); };
  const colors = ['#828282', '#828282', '#ff0000', '#ff0000', '#40ffff', '#40ffff', '#1098b4', '#1098b4'];
  rule(g, cfg.axisX, 1529.5, cfg.axisX, 1942.8, AXIS, 2, prefix + '-y-axis');
  yAxis(g, y, ticks, cfg.axisX, cfg.axisX - 8, cfg.axisX - 13, 26, prefix);
  if (cfg.minor) {
    for (let v = 1; v < cfg.max; v++) {
      if (v % 5 !== 0) rule(g, cfg.axisX - 4, y(v), cfg.axisX, y(v), AXIS, 1.4, prefix + '-y-minor-tick');
    }
  }
  values.forEach(function (v, i) {
    const cx = x(i);
    const bar = add(g, 'rect', {x: cx - 15.5, y: y(v), width: 31, height: y(0) - y(v), fill: colors[i], stroke: '#3a3a3a', 'stroke-width': 1.1});
    named(bar, prefix + '-bar');
    rule(g, cx - 1, 1942.8, cx - 1, 1952, AXIS, 1.8, prefix + '-x-tick');
    drawError(g, cx, y(errLow[i]), y(errHigh[i]), 7, prefix + '-error-bar');
    points[i].forEach(function (pv, k) {
      drawPoint(g, cx + slots[i][k] * 8, y(pv), 8.8, prefix + '-point');
    });
    label(g, migratedSigns[i], cx - 1 + (i % 2 ? 1 : 0), 1989, 27, 'middle', prefix + '-migrated-sign', {'font-weight': 'bold'});
  });
  rule(g, cfg.axisX - 8, 1942.8, cfg.axisEnd, 1942.8, AXIS, 2.2, prefix + '-x-axis');
}
pairedPanel('panel-f', 'cd163', {x0: 152.5, pitch: 101.4, gap: 39.5, axisX: 121.7, axisEnd: 528, max: 20}, cd163Values, cd163ErrLow, cd163ErrHigh, cd163Points, pairedSlots, mfiTicks20);
pairedPanel('panel-g', 'mertk', {x0: 715.5, pitch: 101.5, gap: 39.5, axisX: 684.3, axisEnd: 1091, max: 20}, mertkValues, mertkErrLow, mertkErrHigh, mertkPoints, pairedSlots, mfiTicks20);
pairedPanel('panel-h', 'cd80', {x0: 1250.4, pitch: 101.5, gap: 39, axisX: 1220, axisEnd: 1626.5, max: 15, minor: true}, cd80Values, cd80ErrLow, cd80ErrHigh, cd80Points, cd80Slots, mfiTicks15);
</script>
</body>
</html>
